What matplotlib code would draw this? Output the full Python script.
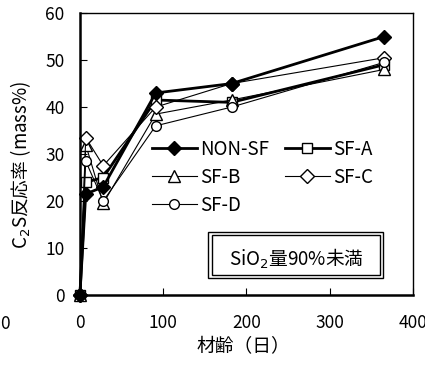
import matplotlib.pyplot as plt
from matplotlib.patches import Rectangle

plt.rcParams['font.family'] = ['Noto Sans CJK JP', 'DejaVu Sans']
plt.rcParams['mathtext.fontset'] = 'dejavusans'

# Data
days = [0, 7, 28, 91, 182, 365]
non_sf = [0, 21.5, 23.0, 43.0, 45.0, 55.0]
sf_a = [0, 24.0, 25.0, 41.5, 41.0, 49.0]
sf_b = [0, 32.0, 19.5, 38.5, 41.5, 48.0]
sf_c = [0, 33.5, 27.5, 40.0, 45.0, 50.5]
sf_d = [0, 28.5, 20.0, 36.0, 40.0, 49.5]

fig = plt.figure(figsize=(4.25, 3.65), dpi=100)
ax = fig.add_axes([0.188, 0.192, 0.784, 0.772])

# Series
l_non, = ax.plot(days, non_sf, color='black', lw=2.0, marker='D', ms=7,
                 mfc='black', mec='black', label='NON-SF', clip_on=False, zorder=5)
l_a, = ax.plot(days, sf_a, color='black', lw=2.0, marker='s', ms=6.5,
               mfc='white', mec='black', mew=1, label='SF-A', clip_on=False)
l_b, = ax.plot(days, sf_b, color='black', lw=0.8, marker='^', ms=8,
               mfc='white', mec='black', label='SF-B', clip_on=False)
l_c, = ax.plot(days, sf_c, color='black', lw=0.8, marker='D', ms=7,
               mfc='white', mec='black', label='SF-C', clip_on=False)
l_d, = ax.plot(days, sf_d, color='black', lw=0.8, marker='o', ms=7,
               mfc='white', mec='black', label='SF-D', clip_on=False)

# Axes
ax.set_xlim(0, 400)
ax.set_ylim(0, 60)
ax.set_xticks([0, 100, 200, 300, 400])
ax.set_yticks(range(0, 61, 10))
ax.tick_params(direction='in', labelsize=12.5, length=5)
ax.tick_params(axis='x', pad=14)
ax.tick_params(axis='y', pad=11)
for side in ['left', 'bottom']:
    ax.spines[side].set_linewidth(1.8)
for side in ['top', 'right']:
    ax.spines[side].set_linewidth(1.0)

ax.set_xlabel('材齢（日）', fontsize=13.5)
ax.xaxis.set_label_coords(0.49, -0.145)
ax.set_ylabel('C$_2$S反応率 (mass%)', fontsize=13.5)
ax.yaxis.set_label_coords(-0.142, 0.46)

# stray tick label on the far left
fig.text(0.012, 0.113, '0', fontsize=12.5, va='center', ha='center')

# legend filled column-wise: NON-SF, SF-B, SF-D | SF-A, SF-C
ax.legend([l_non, l_b, l_d, l_a, l_c], ['NON-SF', 'SF-B', 'SF-D', 'SF-A', 'SF-C'],
          ncol=2, loc='upper left', bbox_to_anchor=(0.216, 0.555),
          frameon=False, fontsize=13.5, handlelength=2.4, borderpad=0,
          borderaxespad=0, columnspacing=0.8, handletextpad=0.2,
          labelspacing=0.38)

# Double-framed note box
ax.text(0.649, 0.128, 'SiO$_2$量90%未満', transform=ax.transAxes,
        fontsize=13.5, ha='center', va='center')
ax.add_patch(Rectangle((0.396, 0.071), 0.505, 0.142, transform=ax.transAxes,
                       fill=False, ec='black', lw=1.0))
ax.add_patch(Rectangle((0.384, 0.060), 0.526, 0.163, transform=ax.transAxes,
                       fill=False, ec='black', lw=1.0))

fig.savefig('out.png', dpi=100)
